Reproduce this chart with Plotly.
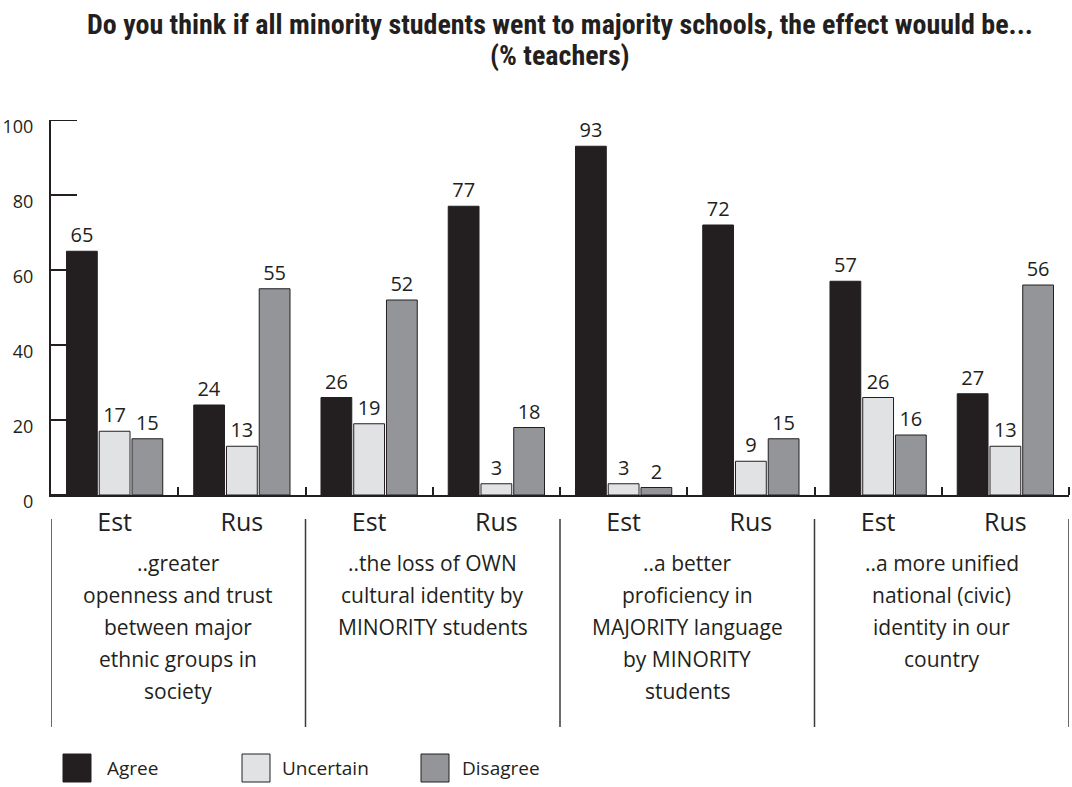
import plotly.graph_objects as go

# ---------------- data ----------------
x_labels = ["Est", "Rus", "Est", "Rus", "Est", "Rus", "Est", "Rus"]
series_names = ["Agree", "Uncertain", "Disagree"]
agree = [65, 24, 26, 77, 93, 72, 57, 27]
uncertain = [17, 13, 19, 3, 3, 9, 26, 13]
disagree = [15, 55, 52, 18, 2, 15, 16, 56]
group_texts = [
    ["..greater", "openness and trust", "between major", "ethnic groups in", "society"],
    ["..the loss of OWN", "cultural identity by", "MINORITY students"],
    ["..a better", "proficiency in", "MAJORITY language", "by MINORITY", "students"],
    ["..a more unified", "national (civic)", "identity in our", "country"],
]
title_lines = ["Do you think if all minority students went to majority schools, the effect wouuld be...",
               "(% teachers)"]
y_ticks = [0, 20, 40, 60, 80, 100]

# ---------------- style ----------------
INK = "#231f20"
colors = ["#231f20", "#e1e2e4", "#939598"]
FONT = "Open Sans"
TITLE_FONT = "Roboto Condensed, Liberation Sans Narrow, DejaVu Sans Condensed, Roboto"
W, H = 1072, 787
L, R, T, B = 51, 3, 120, 292
plot_h = H - T - B
plot_w = W - L - R


def py_to_paper(py):
    return (H - B - py) / plot_h


def px_to_paper(px):
    return (px - L) / plot_w


xs = list(range(len(x_labels)))
fig = go.Figure()
for name, vals, col in zip(series_names, [agree, uncertain, disagree], colors):
    fig.add_trace(go.Bar(
        x=xs, y=vals, name=name,
        marker=dict(color=col, line=dict(color=INK, width=1)),
        text=[str(v) for v in vals], textposition="outside",
        textfont=dict(family=FONT, size=20, color=INK),
        cliponaxis=False, showlegend=False,
    ))

shapes = []
annotations = []
# y-axis tick marks (drawn beneath the bars, as in the reference)
for v in y_ticks:
    shapes.append(dict(type="line", xref="paper", yref="y", layer="below",
                       x0=0, x1=px_to_paper(L + 26), y0=v, y1=v,
                       line=dict(color=INK, width=2)))
# title
for i, line in enumerate(title_lines):
    annotations.append(dict(x=0.5, xref="paper", y=py_to_paper(25 + 30 * i), yref="paper",
                            text="<b>" + line + "</b>", showarrow=False,
                            xanchor="center", yanchor="middle",
                            font=dict(family=TITLE_FONT, size=28, color=INK)))
# separator lines under the axis
for k in range(len(group_texts) + 1):
    shapes.append(dict(type="line", xref="x", yref="paper",
                       x0=-0.5 + 2 * k, x1=-0.5 + 2 * k,
                       y0=py_to_paper(519), y1=py_to_paper(727),
                       line=dict(color="#3a3a3a", width=1.5)))
# group descriptions
for g, lines in enumerate(group_texts):
    for i, line in enumerate(lines):
        annotations.append(dict(x=0.5 + 2 * g, xref="x", y=py_to_paper(563 + 32 * i), yref="paper",
                                text=line, showarrow=False, yanchor="middle", xanchor="center",
                                font=dict(family=FONT, size=21, color=INK)))
# legend
leg_sq = [63, 242, 421]
leg_tx = [105, 280, 460]
for name, col, sx, tx in zip(series_names, colors, leg_sq, leg_tx):
    shapes.append(dict(type="rect", xref="paper", yref="paper",
                       x0=px_to_paper(sx), x1=px_to_paper(sx + 28),
                       y0=py_to_paper(782), y1=py_to_paper(754),
                       fillcolor=col, line=dict(color=INK, width=1)))
    annotations.append(dict(x=px_to_paper(tx), xref="paper", y=py_to_paper(768), yref="paper",
                            text=name, showarrow=False, xanchor="left", yanchor="middle",
                            font=dict(family=FONT, size=19, color=INK)))

fig.update_layout(
    width=W, height=H,
    margin=dict(l=L, r=R, t=T, b=B, pad=0),
    paper_bgcolor="white", plot_bgcolor="white",
    barmode="group", bargap=0.228, bargroupgap=0.06,
    font=dict(family=FONT, color=INK),
    shapes=shapes, annotations=annotations,
)
fig.update_yaxes(range=[0, 100], tickvals=y_ticks, showgrid=False, zeroline=False,
                 showline=True, linecolor=INK, linewidth=2, layer="below traces",
                 ticks="",
                 tickfont=dict(family=FONT, size=18, color=INK),
                 ticklabelstandoff=12, ticklabelshift=7)
fig.update_xaxes(range=[-0.5, 7.5], tickvals=xs, ticktext=x_labels, showgrid=False, zeroline=False,
                 showline=True, linecolor=INK, linewidth=2, ticks="",
                 tickfont=dict(family=FONT, size=25, color=INK),
                 ticklabelstandoff=4,
                 minor=dict(tickvals=[0.5 + i for i in range(8)], ticks="inside", ticklen=8,
                            tickwidth=2, tickcolor=INK))

fig.write_html("out.html")
